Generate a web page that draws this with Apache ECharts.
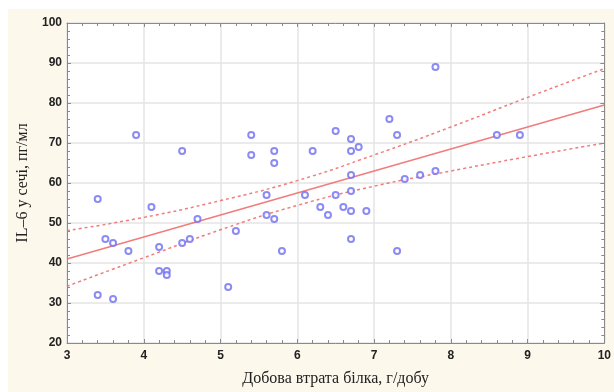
<!DOCTYPE html>
<html>
<head>
<meta charset="utf-8">
<script src="https://cdn.jsdelivr.net/npm/echarts@6/dist/echarts.min.js"></script>
<style>
  html, body { margin: 0; padding: 0; background: #fff; }
  #chart { width: 614px; height: 392px; }
</style>
</head>
<body>
<div id="chart"></div>
<script>
// measured points (protein loss g/day vs IL-6 pg/ml)
var lossX = [3.4, 3.9, 3.4, 3.6, 3.5, 3.6, 3.8, 4.1, 4.2, 4.2, 4.3, 4.3, 4.5, 4.5, 4.6, 4.7,
             5.1, 5.2, 5.4, 5.4, 5.6, 5.6, 5.7, 5.7, 5.7, 5.8, 6.1, 6.2, 6.3, 6.4, 6.5, 6.5,
             6.6, 6.7, 6.7, 6.7, 6.7, 6.7, 6.7, 6.8, 6.9, 7.2, 7.3, 7.3, 7.4, 7.6, 7.8, 7.8,
             8.6, 8.9];
var il6Y = [56, 72, 32, 31, 46, 45, 43, 54, 44, 38, 38, 37, 68, 45, 46, 51,
            34, 48, 72, 67, 57, 52, 68, 65, 51, 43, 57, 68, 54, 52, 73, 57,
            54, 71, 68, 62, 58, 53, 46, 69, 53, 76, 72, 43, 61, 62, 89, 63,
            72, 72];

// regression line read at the axis ends
var fitX = [3, 10];
var fitY = [41, 79.5];

// 95% band at whole x values
var bandX = [3, 4, 5, 6, 7, 8, 9, 10];
var bandUpper = [48.1, 51.4, 55.6, 60.6, 67.0, 74.0, 81.4, 88.6];
var bandLower = [34.2, 41.3, 48.3, 54.4, 59.2, 63.0, 66.6, 70.0];

var xTicks = {min: 3, max: 10, interval: 1};
var yTicks = {min: 20, max: 100, interval: 10};

function pairs(xs, ys) {
    return xs.map(function (x, i) { return [x, ys[i]]; });
}

var chart = echarts.init(document.getElementById('chart'));

var lineColor = 'rgba(240,110,110,0.9)';
var axisGrey = '#8a8a8a';

function axisBase(extra) {
    var a = {
        type: 'value',
        axisLine: {show: true, onZero: false, lineStyle: {color: axisGrey, width: 1}},
        axisTick: {show: true, inside: true, length: 4, lineStyle: {color: axisGrey}},
        minorTick: {show: true, splitNumber: 5, length: 3, lineStyle: {color: axisGrey}},
        splitLine: {show: false},
        axisLabel: {show: false}
    };
    return Object.assign(a, extra);
}

var option = {
    backgroundColor: '#fff',
    animation: false,
    graphic: [{
        type: 'rect',
        z: -10,
        shape: {x: 8, y: 9, width: 606, height: 383},
        style: {fill: '#fdf8ec'}
    }],
    grid: {
        left: 67, right: 5, top: 23, bottom: 47,
        show: true, backgroundColor: '#fff', borderWidth: 0
    },
    xAxis: [
        axisBase({
            min: xTicks.min, max: xTicks.max, interval: xTicks.interval,
            position: 'bottom',
            splitLine: {show: true, lineStyle: {color: '#e4e4e4', width: 1.5}},
            axisLabel: {show: true, margin: 7, color: '#222', fontWeight: 'bold',
                        fontFamily: 'Liberation Sans', fontSize: 12},
            name: 'Добова втрата білка, г/добу',
            nameLocation: 'middle',
            nameGap: 28,
            nameTextStyle: {fontFamily: 'Liberation Serif', fontSize: 16, color: '#222'}
        }),
        axisBase({min: xTicks.min, max: xTicks.max, interval: xTicks.interval, position: 'top'})
    ],
    yAxis: [
        axisBase({
            min: yTicks.min, max: yTicks.max, interval: yTicks.interval,
            position: 'left',
            splitLine: {show: true, lineStyle: {color: '#e4e4e4', width: 1.5}},
            axisLabel: {show: true, margin: 5, color: '#222', fontWeight: 'bold',
                        fontFamily: 'Liberation Sans', fontSize: 12},
            name: 'IL–6 у сечі, пг/мл',
            nameLocation: 'middle',
            nameGap: 33,
            nameTextStyle: {fontFamily: 'Liberation Serif', fontSize: 16, color: '#222'}
        }),
        axisBase({min: yTicks.min, max: yTicks.max, interval: yTicks.interval, position: 'right'})
    ],
    series: [
        {
            name: 'upper',
            type: 'line',
            data: pairs(bandX, bandUpper),
            smooth: true,
            showSymbol: false,
            lineStyle: {color: lineColor, width: 1.5, type: [3, 3]},
            z: 2
        },
        {
            name: 'lower',
            type: 'line',
            data: pairs(bandX, bandLower),
            smooth: true,
            showSymbol: false,
            lineStyle: {color: lineColor, width: 1.5, type: [3, 3]},
            z: 2
        },
        {
            name: 'fit',
            type: 'line',
            data: pairs(fitX, fitY),
            showSymbol: false,
            lineStyle: {color: lineColor, width: 1.5},
            z: 3
        },
        {
            name: 'points',
            type: 'scatter',
            data: pairs(lossX, il6Y),
            symbol: 'emptyCircle',
            symbolSize: 6,
            itemStyle: {color: '#6e6ef4', borderWidth: 1.4},
            z: 4
        }
    ]
};

chart.setOption(option);
</script>
</body>
</html>
